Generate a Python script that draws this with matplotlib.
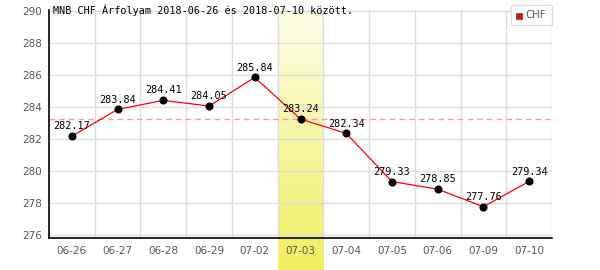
import matplotlib
matplotlib.use("Agg")
import matplotlib.pyplot as plt
import numpy as np

dates = ["06-26", "06-27", "06-28", "06-29", "07-02", "07-03", "07-04", "07-05", "07-06", "07-09", "07-10"]
values = [282.17, 283.84, 284.41, 284.05, 285.84, 283.24, 282.34, 279.33, 278.85, 277.76, 279.34]
highlight = "07-03"
ref_value = 283.24
yticks = [276, 278, 280, 282, 284, 286, 288, 290]
title = "MNB CHF Árfolyam 2018-06-26 és 2018-07-10 között."
series_name = "CHF"

fig = plt.figure(figsize=(6, 2.7), dpi=100)
ax = fig.add_axes([49/600, 1-238/270, (552-49)/600, (238-10)/270])
n = len(dates)
x = np.arange(n)
ax.set_xlim(-0.5, n-0.5)
ax.set_ylim(275.8, 290.06)

# highlight band with gradient, extending below the axes
hi = dates.index(highlight)
grad = np.linspace(0, 1, 256).reshape(-1, 1)
from matplotlib.colors import LinearSegmentedColormap
cmap = LinearSegmentedColormap.from_list("hl", ["#fdfde8", "#f0ef60"])
ax.imshow(grad, aspect="auto", cmap=cmap, origin="upper",
          extent=(hi-0.5, hi+0.5, 275.8 - (270-238)/16.0, 290.06),
          zorder=0, clip_on=False)

for yt in yticks:
    ax.axhline(yt, color="#dddddd", lw=1, zorder=1)
for i in range(n):
    ax.axvline(i+0.5, color="#dddddd", lw=1, zorder=1)

ax.axhline(ref_value, color="#ff9999", lw=1, ls=(0, (4, 3)), zorder=2)
ax.plot(x, values, color="red", lw=0.9, zorder=3)
ax.plot(x, values, "o", color="black", ms=4.8, zorder=4)
for xi, v in zip(x, values):
    ax.annotate(f"{v:.2f}", (xi, v), xytext=(0, 3.5), textcoords="offset points",
                ha="center", va="bottom", fontsize=7.3, family="DejaVu Sans Mono",
                color="black", zorder=5)

ax.set_xticks(x)
ax.set_xticklabels(dates)
ax.set_yticks(yticks)
ax.tick_params(axis="both", length=0, labelsize=7.5, labelcolor="#555555", pad=5)
ax.tick_params(axis="x", pad=6)
for s in ["top", "right"]:
    ax.spines[s].set_visible(False)
ax.spines["left"].set_color("black")
ax.spines["bottom"].set_color("black")
ax.spines["left"].set_linewidth(1.2)
ax.spines["bottom"].set_linewidth(1.2)
ax.set_facecolor("none")

fig.text(53/600, 1-10/270, title, fontsize=7.3, family="DejaVu Sans Mono",
         color="black", va="center", ha="left")

# legend box
from matplotlib.patches import Rectangle
lx0, ly0, lw, lh = 511, 5, 41, 20
fig.patches.append(Rectangle((lx0/600, 1-(ly0+lh)/270), lw/600, lh/270,
                             transform=fig.transFigure, facecolor="white",
                             edgecolor="#dddddd", lw=1, zorder=10))
fig.patches.append(Rectangle((516/600, 1-19/270), 6/600, 6/270,
                             transform=fig.transFigure, facecolor="red",
                             edgecolor="#666666", lw=0.8, zorder=11))
fig.text(525/600, 1-15.5/270, series_name, fontsize=7.3, color="#555555",
         va="center", ha="left", zorder=12)

fig.savefig("out.png", dpi=100)
